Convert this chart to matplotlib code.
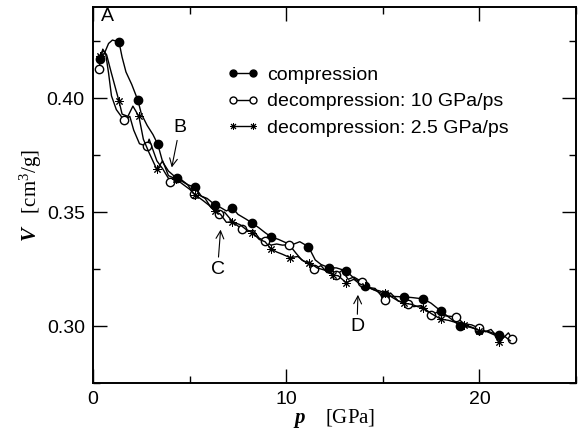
import numpy as np
import matplotlib
matplotlib.use('Agg')
import matplotlib.pyplot as plt
from matplotlib.lines import Line2D
from matplotlib.ticker import MultipleLocator

# compression run (line + markers)
p_comp = [0.36, 0.55, 0.8, 1.0, 1.34, 1.5, 1.7, 2.0, 2.32, 2.5, 2.8, 3.1, 3.35, 3.6, 3.9, 4.33,
          4.6, 4.9, 5.3, 5.6, 5.9, 6.29, 6.6, 6.9, 7.2, 7.5, 7.9, 8.2, 8.6, 8.9, 9.2, 9.6, 10.0,
          10.4, 10.7, 11.15, 11.5, 11.8, 12.2, 12.6, 13.1, 13.5, 14.1, 14.5, 15.1, 15.5, 16.1,
          16.5, 17.1, 17.5, 18.0, 18.4, 19.0, 19.5, 20.0, 20.5, 21.0]
v_comp = [0.417, 0.419, 0.424, 0.4255, 0.4247, 0.418, 0.4115, 0.406, 0.399, 0.393, 0.388, 0.384,
          0.3797, 0.372, 0.368, 0.3648, 0.364, 0.362, 0.3608, 0.357, 0.356, 0.3533, 0.352, 0.3505,
          0.352, 0.349, 0.347, 0.3454, 0.343, 0.341, 0.3392, 0.338, 0.3365, 0.336, 0.337, 0.3348,
          0.329, 0.327, 0.3256, 0.3255, 0.3242, 0.321, 0.3176, 0.316, 0.3137, 0.313, 0.3128,
          0.3125, 0.3119, 0.310, 0.3066, 0.304, 0.300, 0.2995, 0.2982, 0.2975, 0.296]
pm_comp = [0.36, 1.34, 2.32, 3.35, 4.33, 5.3, 6.29, 7.2, 8.2, 9.2, 11.15, 12.2, 13.1, 14.1,
           15.1, 16.1, 17.1, 18.0, 19.0, 20.0, 21.0]
vm_comp = [0.417, 0.4247, 0.399, 0.3797, 0.3648, 0.3608, 0.3533, 0.352, 0.3454, 0.3392, 0.3348,
           0.3256, 0.3242, 0.3176, 0.3137, 0.3128, 0.3119, 0.3066, 0.300, 0.2982, 0.296]

# decompression 10 GPa/ps
p_d10 = [0.3, 0.5, 0.65, 0.8, 0.95, 1.2, 1.6, 1.9, 2.1, 2.4, 2.78, 2.9, 3.3, 3.6, 4.0, 4.3, 4.6,
         4.9, 5.2, 5.5, 5.8, 6.1, 6.5, 6.8, 7.1, 7.4, 7.7, 8.0, 8.3, 8.6, 8.9, 9.2, 9.5, 9.8,
         10.15, 10.5, 10.8, 11.1, 11.45, 11.8, 12.1, 12.6, 12.9, 13.2, 13.5, 13.9, 14.2, 14.6,
         15.1, 15.4, 15.8, 16.3, 16.6, 17.0, 17.5, 17.8, 18.2, 18.8, 19.2, 19.6, 20.0, 20.3,
         20.6, 20.9, 21.2, 21.5, 21.7]
v_d10 = [0.413, 0.4215, 0.4195, 0.411, 0.401, 0.395, 0.3903, 0.392, 0.386, 0.380, 0.3789, 0.382,
         0.3725, 0.369, 0.3634, 0.3655, 0.3635, 0.362, 0.358, 0.3575, 0.356, 0.352, 0.349, 0.350,
         0.347, 0.3445, 0.3427, 0.3415, 0.342, 0.3385, 0.3375, 0.3355, 0.336, 0.3355, 0.3357,
         0.332, 0.329, 0.3275, 0.325, 0.3265, 0.3235, 0.3225, 0.3245, 0.3205, 0.3215, 0.3195,
         0.317, 0.3165, 0.3115, 0.3145, 0.311, 0.3097, 0.3085, 0.309, 0.3048, 0.306, 0.3045,
         0.304, 0.301, 0.3005, 0.299, 0.2975, 0.2985, 0.2955, 0.2945, 0.297, 0.2943]
pm_d10 = [0.3, 1.6, 2.78, 4.0, 5.2, 6.5, 7.7, 8.9, 10.15, 11.45, 12.6, 13.9, 15.1, 16.3, 17.5,
          18.8, 20.0, 21.7]
vm_d10 = [0.413, 0.3903, 0.3789, 0.3634, 0.358, 0.349, 0.3427, 0.3375, 0.3357, 0.325, 0.3225,
          0.3195, 0.3115, 0.3097, 0.3048, 0.304, 0.299, 0.2943]

# decompression 2.5 GPa/ps
p_d25 = [0.36, 0.5, 0.7, 0.93, 1.34, 1.5, 1.8, 2.06, 2.37, 2.6, 2.9, 3.3, 3.6, 3.9, 4.3, 4.6,
         5.0, 5.3, 5.7, 6.0, 6.3, 6.6, 6.9, 7.2, 7.6, 7.9, 8.25, 8.6, 8.9, 9.2, 9.5, 9.8, 10.2,
         10.6, 10.9, 11.2, 11.6, 12.0, 12.4, 12.7, 13.1, 13.5, 13.8, 14.1, 14.5, 14.8, 15.1,
         15.5, 15.8, 16.1, 16.5, 16.8, 17.1, 17.5, 18.0, 18.4, 18.8, 19.2, 19.6, 20.0, 20.4,
         20.8, 21.0, 21.3, 21.6]
v_d25 = [0.4185, 0.421, 0.419, 0.4115, 0.3987, 0.393, 0.392, 0.3965, 0.392, 0.382, 0.376,
         0.3687, 0.3725, 0.366, 0.3645, 0.3625, 0.360, 0.3575, 0.355, 0.353, 0.3505, 0.349,
         0.3455, 0.3458, 0.3445, 0.3425, 0.341, 0.338, 0.337, 0.334, 0.3325, 0.3315, 0.330,
         0.3305, 0.3285, 0.3278, 0.3255, 0.3245, 0.3225, 0.322, 0.319, 0.3205, 0.3185, 0.3175,
         0.316, 0.3155, 0.3146, 0.3125, 0.311, 0.310, 0.3095, 0.3085, 0.308, 0.3055, 0.303,
         0.3025, 0.3015, 0.3005, 0.2995, 0.298, 0.2975, 0.296, 0.293, 0.2955, 0.2935]
pm_d25 = [0.36, 1.34, 2.37, 3.3, 4.3, 5.3, 6.3, 7.2, 8.25, 9.2, 10.2, 11.2, 12.4, 13.1, 14.1,
          15.1, 16.1, 17.1, 18.0, 19.2, 20.0, 21.0]
vm_d25 = [0.4185, 0.3987, 0.392, 0.3687, 0.3645, 0.3575, 0.3505, 0.3458, 0.341, 0.334, 0.330,
          0.3278, 0.3225, 0.319, 0.3175, 0.3146, 0.310, 0.308, 0.303, 0.3005, 0.298, 0.293]

plt.rcParams['font.family'] = 'Liberation Sans'
plt.rcParams['mathtext.fontset'] = 'custom'
plt.rcParams['mathtext.rm'] = 'Liberation Serif'
plt.rcParams['mathtext.it'] = 'Liberation Serif:italic'
plt.rcParams['mathtext.bf'] = 'Liberation Serif:bold'
plt.rcParams['mathtext.bfit'] = 'Liberation Serif:italic:bold'

fig = plt.figure(figsize=(5.82, 4.33), dpi=100)
ax = fig.add_axes([0.16, 0.1155, 0.8297, 0.8683])

star = (8, 2, 0)
ax.plot(p_comp, v_comp, color='black', lw=1.0)
ax.plot(pm_comp, vm_comp, 'o', color='black', ms=6)
ax.plot(p_d10, v_d10, color='black', lw=1.0)
ax.plot(pm_d10, vm_d10, 'o', mfc='white', mec='black', ms=6, mew=1.0)
ax.plot(p_d25, v_d25, color='black', lw=1.0)
ax.plot(pm_d25, vm_d25, marker=star, ls='none', color='black', ms=6, mew=0.7)

handles = [Line2D([], [], color='black', lw=1.0, marker='o', ms=5),
           Line2D([], [], color='black', lw=1.0, marker='o', ms=5, mfc='white'),
           Line2D([], [], color='black', lw=1.0, marker=star, ms=5, mew=0.7)]
labels = ['compression', 'decompression: 10 GPa/ps', 'decompression: 2.5 GPa/ps']
ax.legend(handles, labels, loc='upper left', bbox_to_anchor=(0.278, 0.842), frameon=False,
          numpoints=2, handlelength=1.6, handletextpad=0.45, labelspacing=0.45,
          borderpad=0, borderaxespad=0, fontsize=14)

ax.set_xlim(0, 25)
ax.set_ylim(0.275, 0.44)
ax.xaxis.set_major_locator(MultipleLocator(10))
ax.xaxis.set_minor_locator(MultipleLocator(5))
ax.yaxis.set_major_locator(MultipleLocator(0.05))
ax.yaxis.set_minor_locator(MultipleLocator(0.025))
ax.yaxis.set_major_formatter(matplotlib.ticker.FormatStrFormatter('%.2f'))
ax.tick_params(which='both', direction='in', top=True, right=True, labelsize=14, width=1.0)
ax.tick_params(which='major', length=10, pad=6)
ax.tick_params(which='minor', length=5)
for s in ax.spines.values():
	s.set_linewidth(1.4)

ax.set_xlabel(r'$\mathbfit{p}\ \quad\mathrm{[GPa]}$', fontsize=15, labelpad=-1)
ax.set_ylabel(r'$\mathbfit{V}\quad\mathrm{[cm}^{3}\mathrm{/g]}$', fontsize=15, labelpad=2)

ax.text(0.72, 0.4357, 'A', fontsize=14, ha='center', va='center')
ax.annotate('B', xy=(4.07, 0.3696), xytext=(4.48, 0.387), fontsize=14, ha='center', va='center',
            arrowprops=dict(arrowstyle='->', lw=0.8, shrinkA=1, shrinkB=0))
ax.annotate('C', xy=(6.6, 0.3423), xytext=(6.44, 0.3247), fontsize=14, ha='center', va='center',
            arrowprops=dict(arrowstyle='->', lw=0.8, shrinkA=1, shrinkB=0))
ax.annotate('D', xy=(13.71, 0.3137), xytext=(13.66, 0.2996), fontsize=14, ha='center', va='center',
            arrowprops=dict(arrowstyle='->', lw=0.8, shrinkA=1, shrinkB=0))

fig.savefig('out.png', dpi=100)
plt.close()
